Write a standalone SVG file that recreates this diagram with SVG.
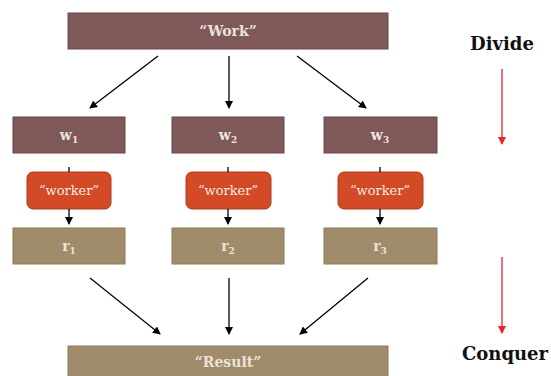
<svg xmlns="http://www.w3.org/2000/svg" width="551" height="376" viewBox="0 0 551 376">
<style>
.w{fill:#7f5959;stroke:#6a4848;stroke-width:1}
.r{fill:#a08c6b;stroke:#8a7858;stroke-width:1}
.k{fill:#d24a26;stroke:#b03a1c;stroke-width:1}
.t{font-family:'DejaVu Serif',serif;fill:#ebe3db;text-anchor:middle;font-weight:bold}
.tk{font-family:'DejaVu Serif',serif;fill:#f3ebe3;text-anchor:middle;font-size:13px}
.c{stroke:#000;stroke-width:1.3;fill:none;marker-end:url(#a)}
.red{stroke:#f0202a;stroke-width:1.3;fill:none;marker-end:url(#ar)}
.lab{font-family:'DejaVu Serif',serif;font-weight:bold;font-size:18px;fill:#111;text-anchor:middle}
</style>
<defs>
<marker id="a" markerWidth="8" markerHeight="8" refX="7" refY="4" orient="auto" markerUnits="userSpaceOnUse"><path d="M0,0 L8,4 L0,8 z" fill="#000"/></marker>
<marker id="ar" markerWidth="8" markerHeight="8" refX="7" refY="4" orient="auto" markerUnits="userSpaceOnUse"><path d="M0,0 L8,4 L0,8 z" fill="#f0202a"/></marker>
</defs>
<rect width="551" height="376" fill="#fff"/>
<g id="work"><rect class="w" x="68" y="13" width="320" height="36"/><text class="t" x="228" y="36" font-size="14">“Work”</text></g>
<g id="w1"><rect class="w" x="13" y="117" width="112" height="36"/><text class="t" x="69" y="140" font-size="14">w<tspan font-size="9" dy="3">1</tspan></text></g>
<g id="w2"><rect class="w" x="172" y="117" width="112" height="36"/><text class="t" x="228" y="140" font-size="14">w<tspan font-size="9" dy="3">2</tspan></text></g>
<g id="w3"><rect class="w" x="324" y="117" width="113" height="36"/><text class="t" x="380" y="140" font-size="14">w<tspan font-size="9" dy="3">3</tspan></text></g>
<g id="worker1"><rect class="k" x="27" y="172" width="84" height="37" rx="6"/><text class="tk" x="69" y="195">“worker”</text></g>
<g id="worker2"><rect class="k" x="186" y="172" width="85" height="37" rx="6"/><text class="tk" x="228" y="195">“worker”</text></g>
<g id="worker3"><rect class="k" x="338" y="172" width="85" height="37" rx="6"/><text class="tk" x="380" y="195">“worker”</text></g>
<g id="r1"><rect class="r" x="13" y="228" width="112" height="36"/><text class="t" x="69" y="251" font-size="14">r<tspan font-size="9" dy="3">1</tspan></text></g>
<g id="r2"><rect class="r" x="172" y="228" width="112" height="36"/><text class="t" x="228" y="251" font-size="14">r<tspan font-size="9" dy="3">2</tspan></text></g>
<g id="r3"><rect class="r" x="324" y="228" width="113" height="36"/><text class="t" x="380" y="251" font-size="14">r<tspan font-size="9" dy="3">3</tspan></text></g>
<g id="result"><rect class="r" x="68" y="346" width="320" height="36"/><text class="t" x="228" y="367" font-size="14">“Result”</text></g>
<g id="labels"><text class="lab" x="502" y="50">Divide</text><text class="lab" x="505" y="360">Conquer</text></g>
<g id="connectors">
<path class="c" d="M158,56 L90,108"/>
<path class="c" d="M229,56 L229,108"/>
<path class="c" d="M297,56 L366,108"/>
<path d="M69,167 L69,172 M228,167 L228,172 M380,167 L380,172" stroke="#000" stroke-width="1.3"/>
<path class="c" d="M69,209 L69,224"/>
<path class="c" d="M228,209 L228,224"/>
<path class="c" d="M380,209 L380,224"/>
<path class="c" d="M90,278 L160,334"/>
<path class="c" d="M229,278 L229,334"/>
<path class="c" d="M368,278 L300,334"/>
<path class="red" d="M502,69 L502,144"/>
<path class="red" d="M502,257 L502,333"/>
</g>
</svg>
